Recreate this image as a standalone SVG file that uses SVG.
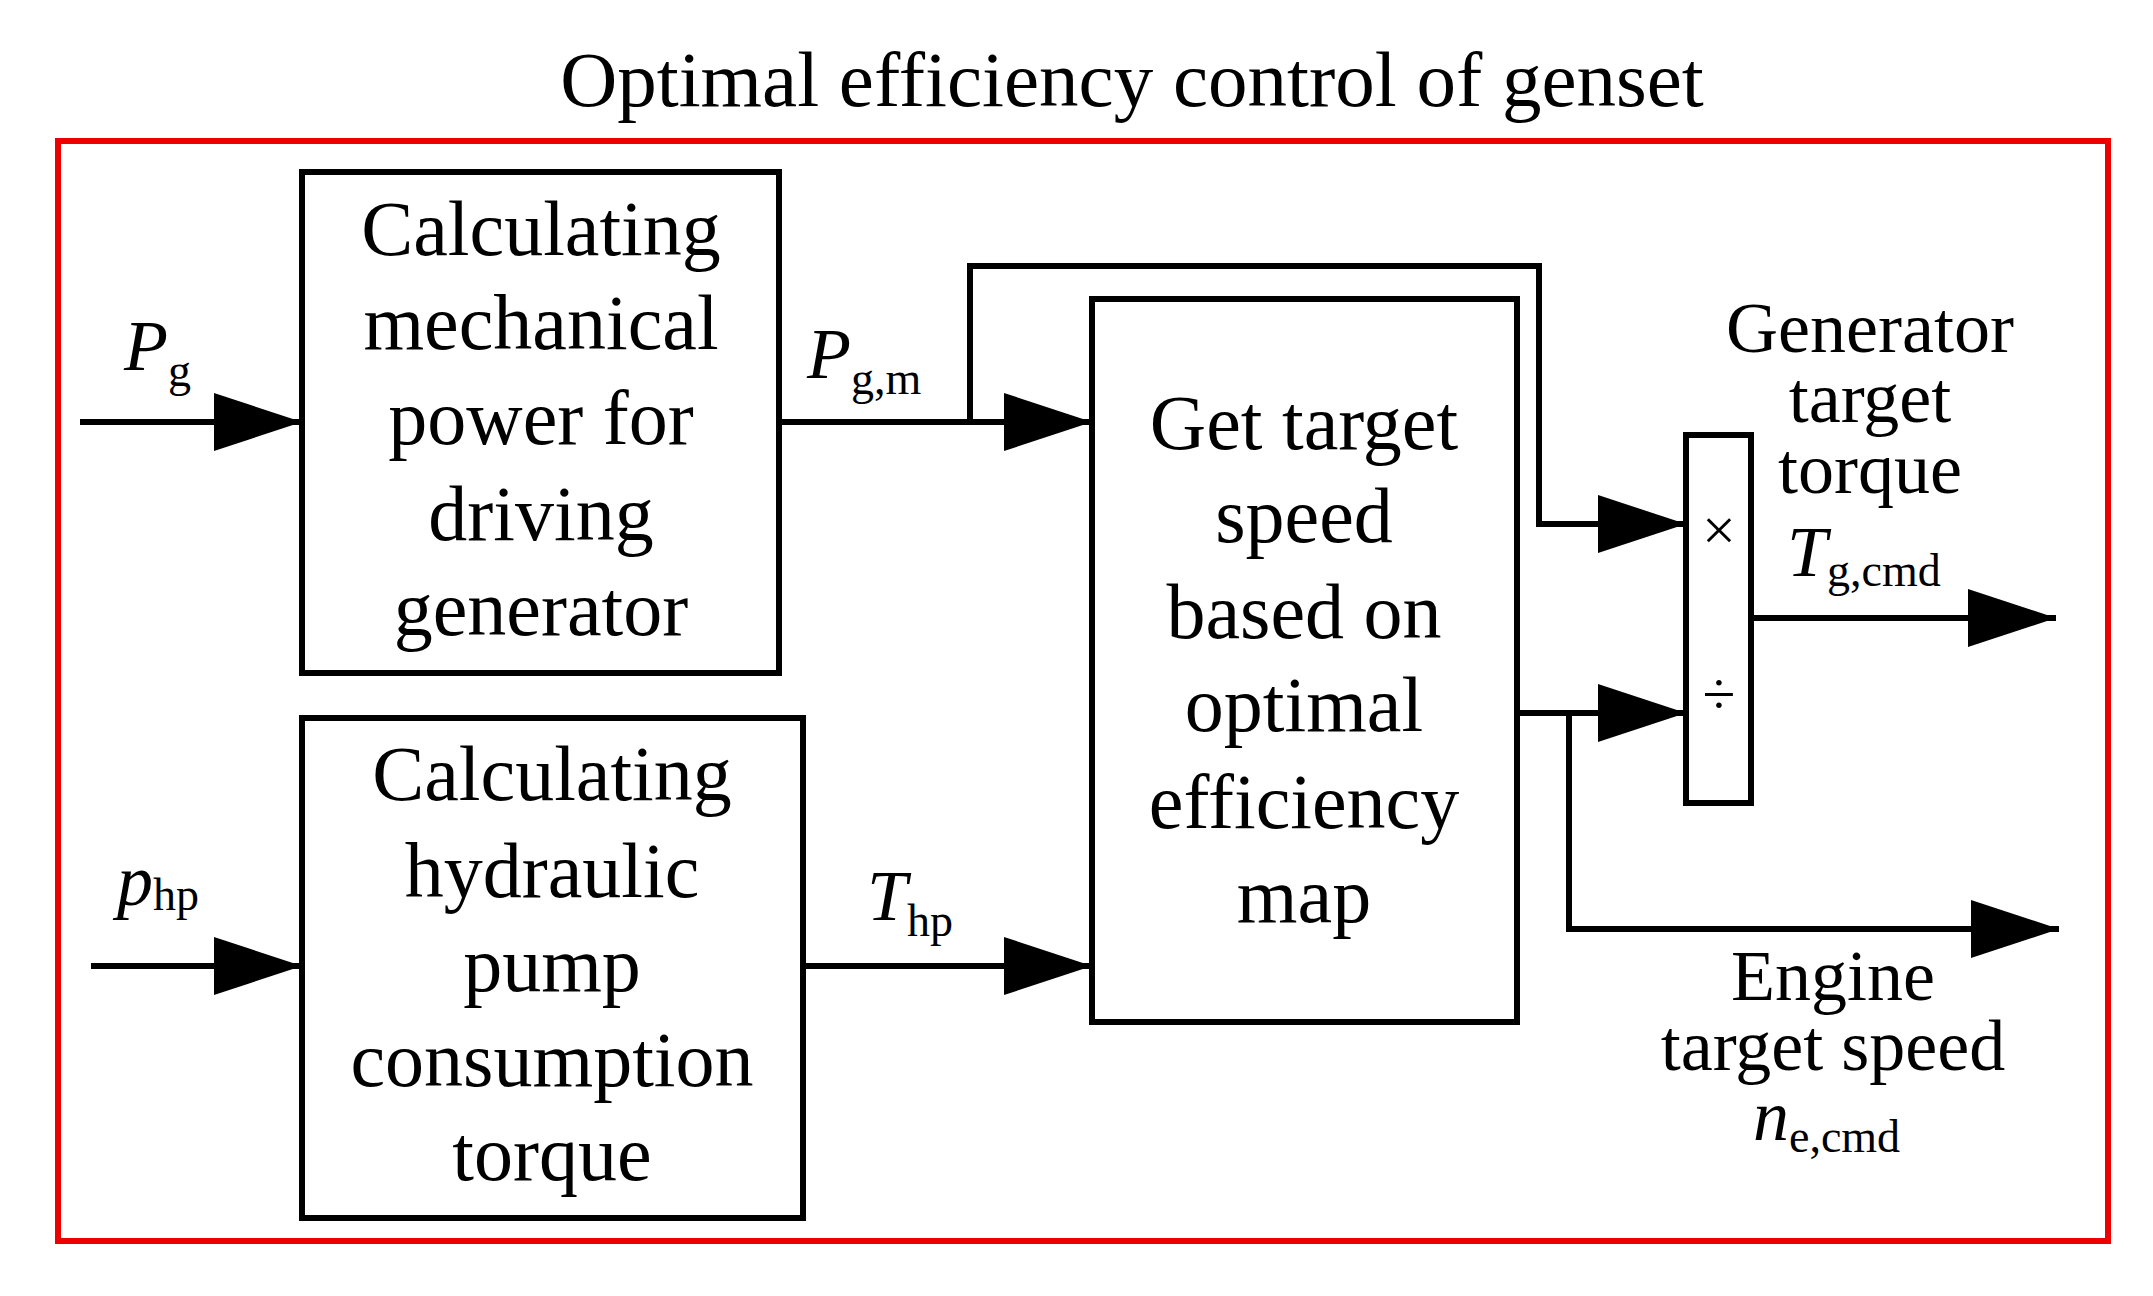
<svg xmlns="http://www.w3.org/2000/svg" width="2153" height="1296" viewBox="0 0 2153 1296">
<defs>
<marker id="ar" markerUnits="userSpaceOnUse" markerWidth="88" markerHeight="58" refX="88" refY="29" orient="auto"><path d="M0,0 L88,29 L0,58 Z" fill="#000"/></marker>
<style>
.t{font-family:"Liberation Serif",serif;font-size:78px;text-anchor:middle;fill:#000}
.s{font-family:"Liberation Serif",serif;font-size:72px;text-anchor:middle;fill:#000}
.v{font-family:"Liberation Serif",serif;font-size:72px;fill:#000}
.i{font-style:italic}
.b{fill:#fff;stroke:#000;stroke-width:6}
.c{fill:none;stroke:#000;stroke-width:6}
</style>
</defs>
<rect width="2153" height="1296" fill="#fff"/>
<text class="t" x="1132" y="106" style="font-size:79px">Optimal efficiency control of genset</text>
<rect x="58" y="141" width="2050" height="1100" fill="none" stroke="#e00" stroke-width="6"/>
<g id="box1"><rect class="b" x="302" y="172" width="477" height="501"/>
<text class="t" x="541" y="255">Calculating</text><text class="t" x="541" y="349">mechanical</text><text class="t" x="541" y="444">power for</text><text class="t" x="541" y="540">driving</text><text class="t" x="541" y="635">generator</text></g>
<g id="box2"><rect class="b" x="302" y="718" width="501" height="500"/>
<text class="t" x="552" y="800">Calculating</text><text class="t" x="552" y="897">hydraulic</text><text class="t" x="552" y="991">pump</text><text class="t" x="552" y="1086">consumption</text><text class="t" x="552" y="1180">torque</text></g>
<g id="box3"><rect class="b" x="1092" y="299" width="425" height="723"/>
<text class="t" x="1304" y="449">Get target</text><text class="t" x="1304" y="542">speed</text><text class="t" x="1304" y="638">based on</text><text class="t" x="1304" y="731">optimal</text><text class="t" x="1304" y="828">efficiency</text><text class="t" x="1304" y="922">map</text></g>
<g id="muldiv"><rect class="b" x="1686" y="435" width="65" height="368"/>
<text class="t" x="1719" y="550" style="font-size:60px">×</text><text class="t" x="1719" y="714" style="font-size:60px">÷</text></g>
<g id="connectors">
<path class="c" d="M80,422 H302" marker-end="url(#ar)"/>
<path class="c" d="M779,422 H1092" marker-end="url(#ar)"/>
<path class="c" d="M970,422 V266 H1539 V524 H1686" marker-end="url(#ar)"/>
<path class="c" d="M91,966 H302" marker-end="url(#ar)"/>
<path class="c" d="M803,966 H1092" marker-end="url(#ar)"/>
<path class="c" d="M1517,713 H1686" marker-end="url(#ar)"/>
<path class="c" d="M1569,713 V929 H2059" marker-end="url(#ar)"/>
<path class="c" d="M1751,618 H2056" marker-end="url(#ar)"/>
</g>
<g id="labels">
<text class="v" x="124" y="370"><tspan class="i">P</tspan><tspan font-size="46" dy="16">g</tspan></text>
<text class="v" x="807" y="378"><tspan class="i">P</tspan><tspan font-size="46" dy="16">g,m</tspan></text>
<text class="v" x="867" y="920"><tspan class="i">T</tspan><tspan font-size="46" dy="16">hp</tspan></text>
<text class="v" x="117" y="905"><tspan class="i">p</tspan><tspan font-size="46" dy="5">hp</tspan></text>
<text class="s" x="1870" y="352">Generator</text><text class="s" x="1870" y="422">target</text><text class="s" x="1870" y="493">torque</text>
<text class="v" x="1787" y="576"><tspan class="i">T</tspan><tspan font-size="46" dy="10">g,cmd</tspan></text>
<text class="s" x="1833" y="1000">Engine</text><text class="s" x="1833" y="1070">target speed</text>
<text class="v" x="1753" y="1140"><tspan class="i">n</tspan><tspan font-size="46" dy="12">e,cmd</tspan></text>
</g>
</svg>
